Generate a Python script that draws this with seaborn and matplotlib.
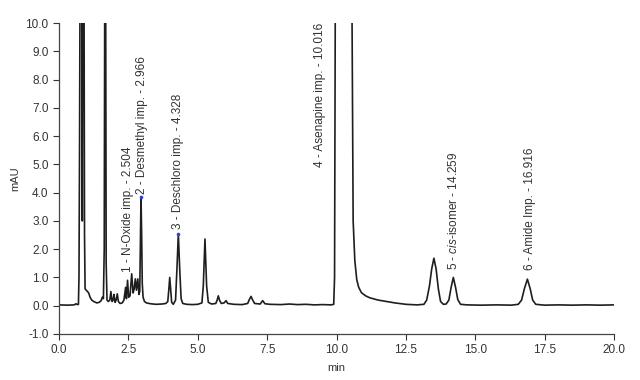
import matplotlib
matplotlib.use("Agg")
import matplotlib.pyplot as plt
import numpy as np
import pandas as pd
import seaborn as sns

# trace (min, mAU); off-scale peaks set to 12
time_min = [0.00, 0.30, 0.55, 0.61, 0.66, 0.70, 0.72, 0.74, 0.76, 0.80, 0.82, 0.84, 0.86, 0.90,
            0.92, 0.94, 0.98, 1.03, 1.07, 1.12, 1.18, 1.25, 1.36, 1.45, 1.52, 1.56, 1.60, 1.63,
            1.65, 1.68, 1.70, 1.73, 1.78, 1.83, 1.87, 1.91, 1.95, 1.98, 2.02, 2.06, 2.10, 2.14,
            2.20, 2.28, 2.34, 2.40, 2.43, 2.47, 2.51, 2.56, 2.62, 2.67, 2.71, 2.75, 2.79, 2.84,
            2.88, 2.91, 2.94, 2.955, 2.98, 3.00, 3.03, 3.08, 3.15, 3.30, 3.50, 3.70, 3.85, 3.92,
            3.96, 3.99, 4.02, 4.06, 4.12, 4.20, 4.25, 4.30, 4.35, 4.40, 4.46, 4.60, 4.80, 5.00,
            5.15, 5.20, 5.26, 5.32, 5.38, 5.50, 5.65, 5.70, 5.74, 5.79, 5.85, 5.95, 6.02, 6.08,
            6.30, 6.60, 6.80, 6.86, 6.92, 6.98, 7.05, 7.25, 7.34, 7.42, 7.60, 8.00, 8.30, 8.60,
            8.90, 9.20, 9.50, 9.80, 9.90, 9.93, 9.96, 10.55, 10.60, 10.66, 10.73, 10.80, 10.90,
            11.05, 11.20, 11.50, 11.80, 12.10, 12.50, 12.90, 13.15, 13.25, 13.35, 13.43, 13.51,
            13.59, 13.67, 13.75, 13.85, 13.95, 14.05, 14.13, 14.21, 14.29, 14.37, 14.47, 14.70,
            15.20, 15.80, 16.30, 16.55, 16.67, 16.77, 16.88, 16.98, 17.07, 17.18, 17.50, 18.00,
            18.50, 19.00, 19.50, 20.00]
mau = [0.03, 0.02, 0.03, 0.07, 0.04, 0.05, 1.0, 5.5, 12, 12, 12, 3.0, 12, 12,
       2.5, 0.6, 0.55, 0.5, 0.45, 0.3, 0.2, 0.15, 0.1, 0.12, 0.18, 0.3, 0.25, 2.0,
       12, 12, 1.5, 0.2, 0.15, 0.2, 0.5, 0.15, 0.2, 0.4, 0.12, 0.2, 0.42, 0.15,
       0.08, 0.1, 0.2, 0.65, 0.25, 0.9, 0.3, 0.35, 1.13, 0.45, 0.6, 0.95, 0.55, 0.95,
       0.4, 0.5, 2.8, 3.86, 2.4, 0.8, 0.3, 0.15, 0.1, 0.07, 0.05, 0.06, 0.08, 0.15,
       0.6, 1.0, 0.6, 0.12, 0.05, 0.2, 1.3, 2.54, 1.3, 0.25, 0.08, 0.05, 0.04, 0.05,
       0.1, 0.7, 2.36, 0.7, 0.12, 0.06, 0.08, 0.2, 0.35, 0.18, 0.08, 0.1, 0.18, 0.08,
       0.05, 0.04, 0.08, 0.22, 0.33, 0.2, 0.08, 0.06, 0.18, 0.07, 0.05, 0.04, 0.06, 0.04,
       0.05, 0.03, 0.04, 0.03, 0.05, 1.0, 12, 12, 3.0, 1.6, 0.92, 0.65, 0.46,
       0.35, 0.28, 0.2, 0.15, 0.1, 0.05, 0.03, 0.05, 0.2, 0.7, 1.3, 1.68,
       1.3, 0.6, 0.15, 0.05, 0.06, 0.2, 0.65, 1.0, 0.65, 0.22, 0.05, 0.03,
       0.02, 0.03, 0.02, 0.05, 0.2, 0.6, 0.94, 0.6, 0.2, 0.05, 0.02, 0.03,
       0.02, 0.03, 0.02, 0.03]

# peak labels
labels = ["1 - N-Oxide imp. - 2.504",
          "2 - Desmethyl imp. - 2.966",
          "3 - Deschloro imp. - 4.328",
          "4 - Asenapine imp. - 10.016",
          r"5 - $\it{cis}$-isomer - 14.259",
          "6 - Amide Imp. - 16.916"]
label_x = [2.49, 2.99, 4.29, 9.40, 14.20, 16.97]
label_y = [1.20, 3.95, 2.70, 4.90, 1.27, 1.27]

apex_t = [2.955, 4.30]
apex_h = [3.86, 2.54]

df = pd.DataFrame({"min": time_min, "mAU": mau})

sns.set_style("ticks")
plt.rcParams["font.family"] = ["Liberation Sans", "DejaVu Sans"]
plt.rcParams["mathtext.fontset"] = "custom"
plt.rcParams["mathtext.it"] = "Liberation Sans:italic"
plt.rcParams["mathtext.rm"] = "Liberation Sans"

fig = plt.figure(figsize=(6.4, 3.8), dpi=100)
ax = fig.add_axes([59 / 640, 46 / 380, 555 / 640, 311 / 380])

sns.lineplot(data=df, x="min", y="mAU", color="#1e1e1e", linewidth=1.2, ax=ax, sort=False)
ax.plot(apex_t, apex_h, "o", color="#3344cc", markersize=1.6, zorder=5)

for s, x, y in zip(labels, label_x, label_y):
    ax.text(x, y, s, rotation=90, ha="center", va="bottom", fontsize=8.5, color="#333333")

ax.set_xlim(0, 20)
ax.set_ylim(-1, 10)
ax.set_xticks(np.arange(0, 20.1, 2.5))
ax.set_yticks(np.arange(-1, 10.1, 1))
ax.set_xticklabels([f"{v:.1f}" for v in np.arange(0, 20.1, 2.5)])
ax.set_yticklabels([f"{v:.1f}" for v in np.arange(-1, 10.1, 1)])
ax.tick_params(labelsize=8.5, colors="#333333", length=4, width=0.8, direction="out")
ax.set_xlabel("min", fontsize=8, color="#333333", labelpad=5)
ax.set_ylabel("mAU", fontsize=8, color="#333333", labelpad=4)
sns.despine(ax=ax)
for sp in ["left", "bottom"]:
    ax.spines[sp].set_color("#444444")
    ax.spines[sp].set_linewidth(0.9)

fig.savefig("out.png", dpi=100)
